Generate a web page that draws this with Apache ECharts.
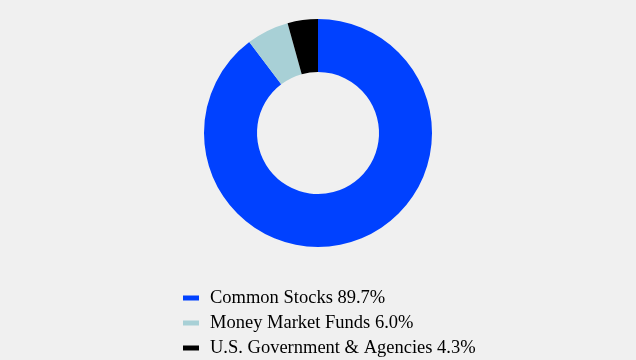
<!DOCTYPE html>
<html>
<head>
<meta charset="utf-8">
<script src="https://cdn.jsdelivr.net/npm/echarts@6/dist/echarts.min.js"></script>
<style>
html,body{margin:0;padding:0;background:#f0f0f0;}
#chart{width:636px;height:360px;}
</style>
</head>
<body>
<div id="chart"></div>
<script>
var names=['Common Stocks','Money Market Funds','U.S. Government & Agencies'];
var values=[89.7,6.0,4.3];
var colors=['#0041ff','#a8d0d6','#000000'];

var myChart=echarts.init(document.getElementById('chart'));
var data=[];
for(var i=0;i<names.length;i++){
	data.push({name:names[i],value:values[i],itemStyle:{color:colors[i]}});
}
var option={
	backgroundColor:'#f0f0f0',
	animation:false,
	textStyle:{fontFamily:'Liberation Serif'},
	legend:{
		orient:'vertical',
		left:178,
		top:283,
		height:80,
		itemWidth:16,
		itemHeight:5,
		itemGap:5,
		icon:'rect',
		textStyle:{fontFamily:'Liberation Serif',fontSize:18.5,lineHeight:20,color:'#000',padding:[0,0,0,6]},
		formatter:function(n){
			var i=names.indexOf(n);
			return n+' '+values[i].toFixed(1)+'%';
		}
	},
	series:[{
		type:'pie',
		center:[318,133],
		radius:[61,114],
		startAngle:90,
		label:{show:false},
		labelLine:{show:false},
		data:data
	}]
};
myChart.setOption(option);
</script>
</body>
</html>
